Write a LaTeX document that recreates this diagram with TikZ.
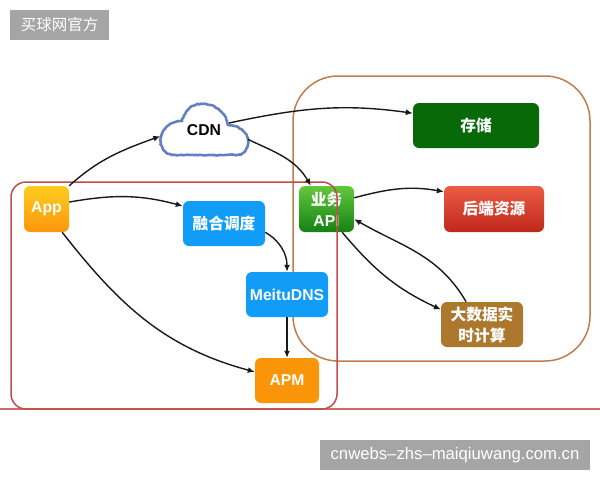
\documentclass[tikz,border=0pt]{standalone}
\usepackage{fontspec}
\setmainfont{Liberation Sans}
\newfontfamily\cjk{Noto Sans CJK SC}
\usetikzlibrary{arrows.meta, decorations.pathmorphing}

\definecolor{skyblue}{RGB}{17,157,247}
\definecolor{deepgreen}{RGB}{7,105,7}
\definecolor{brownbox}{RGB}{172,120,46}
\definecolor{orangebox}{RGB}{250,148,8}
\definecolor{redzone}{RGB}{192,76,76}
\definecolor{baseline}{RGB}{205,110,100}
\definecolor{orangezone}{RGB}{194,124,76}
\definecolor{cloudline}{RGB}{100,128,190}
\definecolor{stampgray}{RGB}{165,165,165}
\definecolor{apptop}{RGB}{252,204,30}
\definecolor{appbottom}{RGB}{252,150,12}
\definecolor{apitop}{RGB}{100,200,60}
\definecolor{apibottom}{RGB}{20,130,20}
\definecolor{backtop}{RGB}{236,92,70}
\definecolor{backbottom}{RGB}{190,40,25}

\tikzset{
  box/.style={rounded corners=6pt, text=white, align=center, inner sep=0pt,
    font=\bfseries\fontsize{15.7}{21}\selectfont},
  flow/.style={-{Latex[length=7pt,width=6pt]}, line width=1.4pt, black!90},
  zone/.style={line width=1.5pt, rounded corners=#1},
  stamp/.style={fill=stampgray, text=white, inner sep=0pt},
}

\begin{document}
\begin{tikzpicture}[x=1pt,y=-1pt]
      \useasboundingbox (0,0) rectangle (600,480);

      % zones and base line
      \draw[zone=45pt, orangezone] (293,76) rectangle (590,361);
      \draw[draw=baseline, line width=1.5pt] (0,409) -- (600,409);

      \node[box, minimum width=55pt, minimum height=46pt, top color=apitop, bottom color=apibottom] (api) at (326.5,209) {\cjk 业务\\API};
      \draw[zone=15pt, redzone] (11,182) rectangle (337,409);

      \node[box, minimum width=45pt, minimum height=46pt, top color=apptop, bottom color=appbottom] (app) at (46.5,209) {App};
      \node[box, minimum width=82pt, minimum height=45pt, fill=skyblue] (fuse) at (224,223.5) {\cjk 融合调度};
      \node[box, minimum width=82pt, minimum height=45pt, fill=skyblue] (meitu) at (287,294.5) {MeituDNS};
      \node[box, minimum width=64pt, minimum height=45pt, fill=orangebox] (apm) at (287,380.5) {APM};
      \node[box, minimum width=126pt, minimum height=45pt, fill=deepgreen] (store) at (476,125.5) {\cjk 存储};
      \node[box, minimum width=100pt, minimum height=46pt, top color=backtop, bottom color=backbottom] (backend) at (494,209) {\cjk 后端资源};
      \node[box, minimum width=82pt, minimum height=45pt, fill=brownbox, font=\cjk\bfseries\fontsize{15.7}{21}\selectfont] (bigdata) at (482,324.5) {大数据实\\时计算};

      % cloud
      \draw[cloudline, fill=white, line width=2.6pt, decorate, decoration={random steps, segment length=2pt, amplitude=0.5pt}]
        (172,155) .. controls (163,153) and (158,143) .. (162,134)
        .. controls (165,125) and (174,121) .. (182,121)
        .. controls (185,109) and (194,103) .. (203,104)
        .. controls (215,104) and (226,113) .. (228,125)
        .. controls (240,126) and (248,133) .. (248,141)
        .. controls (248,150) and (243,155) .. (236,155) -- cycle;
      \node[minimum width=87pt, minimum height=54pt, inner sep=0pt, font=\bfseries\fontsize{15.7}{16}\selectfont] (cdn) at (204,130) {CDN};
      \coordinate (cdnout) at (229,123);

      \draw[flow] (app.north east) to[out=42, in=200] (cdn.188);
      \draw[flow] (cdnout) to[out=12, in=172] (store.169);
      \draw[flow] (cdn.348) to[out=-25, in=120] (api.124);
      \draw[flow] (app.17) to[out=10, in=165] (fuse.157);
      \draw[flow] (fuse.348) to[out=-30, in=90] (meitu.north);
      \draw[flow] (meitu.south) -- (apm.north);
      \draw[flow] (app.304) to[out=-52, in=165] (apm.165);
      \draw[flow] (api.22) to[out=15, in=170] (backend.161);
      \draw[flow] (api.304) to[out=-50, in=155] (bigdata.160);
      \draw[flow] (bigdata.125) to[out=120, in=-30] (api.340);

      % watermarks
      \node[stamp, minimum width=99pt, minimum height=30pt, font=\cjk\fontsize{15.5}{17}\selectfont] (stamptop) at (59.5,25) {买球网官方};
      \node[stamp, minimum width=270pt, minimum height=30pt, font=\fontsize{16.7}{18}\selectfont] (stampbottom) at (455,455) {cnwebs--zhs--maiqiuwang.com.cn};
    \end{tikzpicture}
\end{document}
